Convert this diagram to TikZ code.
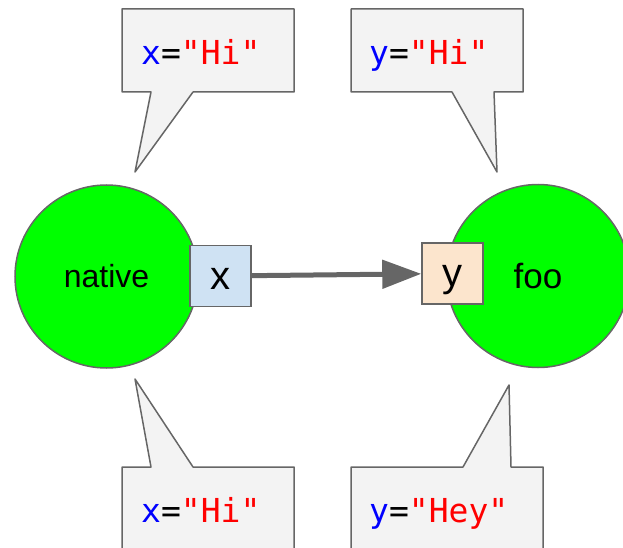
\documentclass[tikz,border=0pt]{standalone}
\usepackage{fontspec}
\setmainfont{Liberation Sans}
\newfontfamily\codefont{DejaVu Sans Mono}
\usetikzlibrary{arrows.meta}
\definecolor{nodegreen}{HTML}{00FF00}
\definecolor{edgegray}{HTML}{666666}
\definecolor{bubblefill}{HTML}{F3F3F3}
\definecolor{xfill}{HTML}{CFE2F3}
\definecolor{yfill}{HTML}{FCE5CD}
\newcommand{\assign}[2]{{\color{blue}#1}={\color{red}"#2"}}

\begin{document}
\begin{tikzpicture}[x=1pt,y=-1pt,>={Triangle[length=39pt,width=28pt]},
    proc/.style={circle,draw=edgegray,line width=1.5pt,fill=nodegreen,minimum size=183pt,inner sep=0pt},
    port/.style={rectangle,draw=edgegray,line width=1.5pt,minimum size=61pt,inner sep=0pt,
        text height=26pt,text depth=0pt,font=\fontsize{40}{48}\selectfont},
    bubble/.style={draw=edgegray,line width=1.5pt,fill=bubblefill,line join=round},
    code/.style={anchor=base west,inner sep=0pt,font=\codefont\fontsize{33}{40}\selectfont},
    flow/.style={->,draw=edgegray,line width=5pt}]
    \useasboundingbox (0,0) rectangle (623,548);
    \clip (0,0) rectangle (623,548);

    \draw[bubble] (122,9) -- (294,9) -- (294,92) -- (193,92) -- (135,172) -- (151,92) -- (122,92) -- cycle;
    \draw[bubble] (351,9) -- (523,9) -- (523,92) -- (494,92) -- (497,172) -- (452,92) -- (351,92) -- cycle;
    \draw[bubble] (122,560) -- (122,467) -- (151,467) -- (135,379) -- (193,467) -- (294,467) -- (294,560) -- cycle;
    \draw[bubble] (351,560) -- (351,467) -- (463,467) -- (509,385) -- (511,467) -- (543,467) -- (543,560) -- cycle;

    \node[code] (xtop) at (141,65) {\assign{x}{Hi}};
    \node[code] (ytop) at (369,65) {\assign{y}{Hi}};
    \node[code] (xbot) at (141,522) {\assign{x}{Hi}};
    \node[code] (ybot) at (369,522) {\assign{y}{Hey}};

    \node[proc,font=\fontsize{32}{38}\selectfont] (native) at (106.5,276.5) {native};
    \node[proc,font=\fontsize{35}{42}\selectfont] (foo) at (538,276) {foo};
    \node[port,fill=xfill] (x) at (220.5,276) {x};
    \node[port,fill=yfill] (y) at (452.5,273.5) {y};

    \draw[flow] (x) -- (y);
\end{tikzpicture}
\end{document}
